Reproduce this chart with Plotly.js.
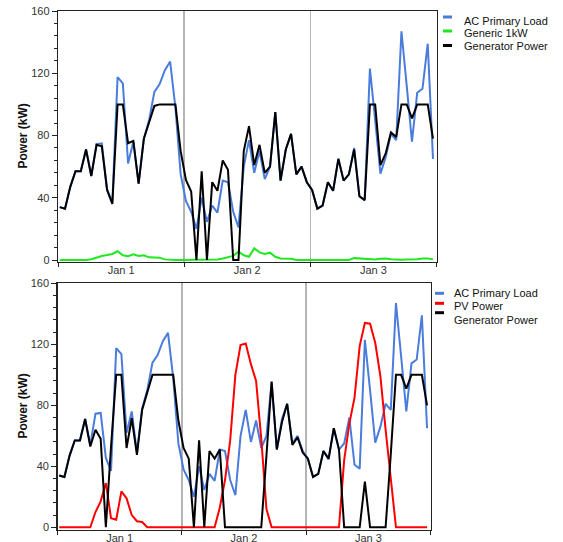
<!DOCTYPE html>
<html><head><meta charset="utf-8">
<script src="https://cdn.plot.ly/plotly-3.0.1.min.js"></script>
<style>html,body{margin:0;padding:0;background:#fff}#chart{width:563px;height:542px}</style>
</head><body><div id="chart"></div>
<script>
// Hourly series, Jan 1 00:00 - Jan 3 23:00 (72 values)
const acPrimaryLoad = [34,33,47,57,57,71,54,74.5,75,45.5,37,117.5,113.5,62,76,49,78,90,108,113,122,127.5,98,55,
  38,31,20,40,24.5,35,30.5,51,50,31,21,60,77,56,70,52,60,95,51,71,81,55,60,50,
  45,33,35,50,44.5,65,51,55,72,41,38.5,123,90,55.5,66,81,77,147,112,76,107.5,110,139,65];
const generic1kW = [0,0,0,0,0,0,0.5,1.7,2.6,3.2,3.9,5.6,3,2.4,3.6,2.6,3,1.7,1.7,1.5,0.4,0,0,0,
  0,0,0,0,0,0,0.3,1,1.7,2.6,5.4,3,2.1,7.5,4.9,3.9,4.7,2.1,1,1,0.8,0,0,0,
  0,0,0,0,0,0,0,0,1.2,1,0.5,0.3,0.3,0.8,1,0.5,0.3,0.2,0.4,0.3,0.5,1,1,0.4];
const generatorPowerTop = [34,33,47,57,57,71,54,74,73,45,36,100,100,75,76.5,49,78,88,99,100,100,100,100,70,
  51.5,44,0,57,0,50,44.5,64,58,0,0,70,86,61,74,56,60,95,51,71,81,55,60,50,
  45,33,35,50,44.5,65,51,55,71,41,38.5,100,100,61,68.5,82,79,100,100,91,100,100,100,78];
const pvPower = [0,0,0,0,0,0,0,10,17,29,6,5,23.5,19,8,4,3.5,0,0,0,0,0,0,0,
  0,0,0,0,0,0,0,13,31,57,100,119.5,120.5,107,96,58,12,0,0,0,0,0,0,0,
  0,0,0,0,0,0,0,44,68,85,119,134,133.5,121,99,64,31,0,0,0,0,0,0,0];
const generatorPowerBottom = [34,33,47,57,57,71,53,64,58,0,53,100,100,52,71.5,47.5,77,88,100,100,100,100,100,70,
  52,45,0,57,0,50,45,51,0,0,0,0,0,0,0,0,47,95.5,51,69,81,54,59,49,
  45,33,35,50,45,65,51,0,0,0,0,30,0,0,0,0,48,100,100,91,100,100,100,80];
const topLegend = ["AC Primary Load", "Generic 1kW", "Generator Power"];
const bottomLegend = ["AC Primary Load", "PV Power", "Generator Power"];
const yTitle = "Power (kW)";

function pad(n){return String(n).padStart(2,'0');}
const times = acPrimaryLoad.map((_, i) => {
  const d = new Date(Date.UTC(2024, 0, 1, 0, 20) + i * 3600000);
  return d.getUTCFullYear() + '-' + pad(d.getUTCMonth()+1) + '-' + pad(d.getUTCDate()) + ' ' + pad(d.getUTCHours()) + ':' + pad(d.getUTCMinutes());
});

const W = 563, H = 542;
const FONT = 'Liberation Sans, Arial, sans-serif';
const BLUE = '#4a7cdc', GREEN = '#1fe81f', RED = '#ff0000', BLACK = '#000000';

function tr(y, color, xa, ya, name){
  return {x: times, y: y, type: 'scatter', mode: 'lines', name: name, xaxis: xa, yaxis: ya,
    line: {color: color, width: 2}, showlegend: false, hoverinfo: 'skip'};
}
const data = [
  tr(acPrimaryLoad, BLUE, 'x', 'y', topLegend[0]),
  tr(generic1kW, GREEN, 'x', 'y', topLegend[1]),
  tr(generatorPowerTop, BLACK, 'x', 'y', topLegend[2]),
  tr(acPrimaryLoad, BLUE, 'x2', 'y2', bottomLegend[0]),
  tr(pvPower, RED, 'x2', 'y2', bottomLegend[1]),
  tr(generatorPowerBottom, BLACK, 'x2', 'y2', bottomLegend[2])
];

const px = v => v / W, py = v => 1 - v / H;
const common = {showline: true, linecolor: '#222', linewidth: 1.3, mirror: true, ticks: 'outside',
  tickcolor: '#222', tickwidth: 1, zeroline: false, fixedrange: true,
  tickfont: {family: FONT, size: 11, color: '#333'}};
function xax(l, r, anchor){
  return Object.assign({}, common, {type: 'date', domain: [px(l), px(r)], anchor: anchor,
    range: ['2024-01-01 00:00', '2024-01-04 00:00'], tick0: '2024-01-01', dtick: 86400000,
    tickformat: '%b %-d', ticklabelmode: 'period', ticklen: 4, ticklabelstandoff: -7,
    showgrid: true, gridcolor: '#b4b4b4', gridwidth: 1.5});
}
function yax(top, bottom, lo, anchor){
  return Object.assign({}, common, {domain: [py(bottom), py(top)], anchor: anchor,
    range: [lo, 160], tick0: 0, dtick: 40, ticklen: 5, showgrid: false,
    minor: {dtick: 8, ticks: 'outside', ticklen: 3, tickcolor: '#222', showgrid: false}});
}

const annotations = [], shapes = [];
function legend(names, colors, sx0, sx1, tx, sampleY, textY){
  names.forEach((n, i) => {
    shapes.push({type: 'line', xref: 'paper', yref: 'paper', x0: px(sx0), x1: px(sx1),
      y0: py(sampleY[i]), y1: py(sampleY[i]), line: {color: colors[i], width: 3}});
    annotations.push({xref: 'paper', yref: 'paper', x: px(tx), y: py(textY[i]), xanchor: 'left',
      yanchor: 'middle', text: n, showarrow: false, font: {family: FONT, size: 11, color: '#111'}});
  });
}
legend(topLegend, [BLUE, GREEN, BLACK], 443, 452, 462, [17, 31, 45.5], [21, 33.3, 45.7]);
legend(bottomLegend, [BLUE, RED, BLACK], 435, 444, 452, [293.3, 303.3, 312.7], [293.3, 305.5, 320]);
[[136.5], [406.5]].forEach(([c]) => annotations.push({xref: 'paper', yref: 'paper', x: px(22), y: py(c),
  xanchor: 'center', yanchor: 'middle', textangle: -90, text: yTitle, showarrow: false,
  font: {family: FONT, size: 12, color: '#111', weight: 'bold'}}));

const layout = {
  width: W, height: H, margin: {l: 0, r: 0, t: 0, b: 0},
  paper_bgcolor: '#fff', plot_bgcolor: '#fff', showlegend: false,
  font: {family: FONT, size: 11, color: '#333'},
  xaxis: xax(58, 436.5, 'y'),
  yaxis: yax(11, 262, -1.285, 'x'),
  xaxis2: xax(57.5, 430.5, 'y2'),
  yaxis2: yax(283.3, 530, -1.77, 'x2'),
  annotations: annotations, shapes: shapes
};
Plotly.newPlot('chart', data, layout, {displayModeBar: false, staticPlot: true});
</script></body></html>
